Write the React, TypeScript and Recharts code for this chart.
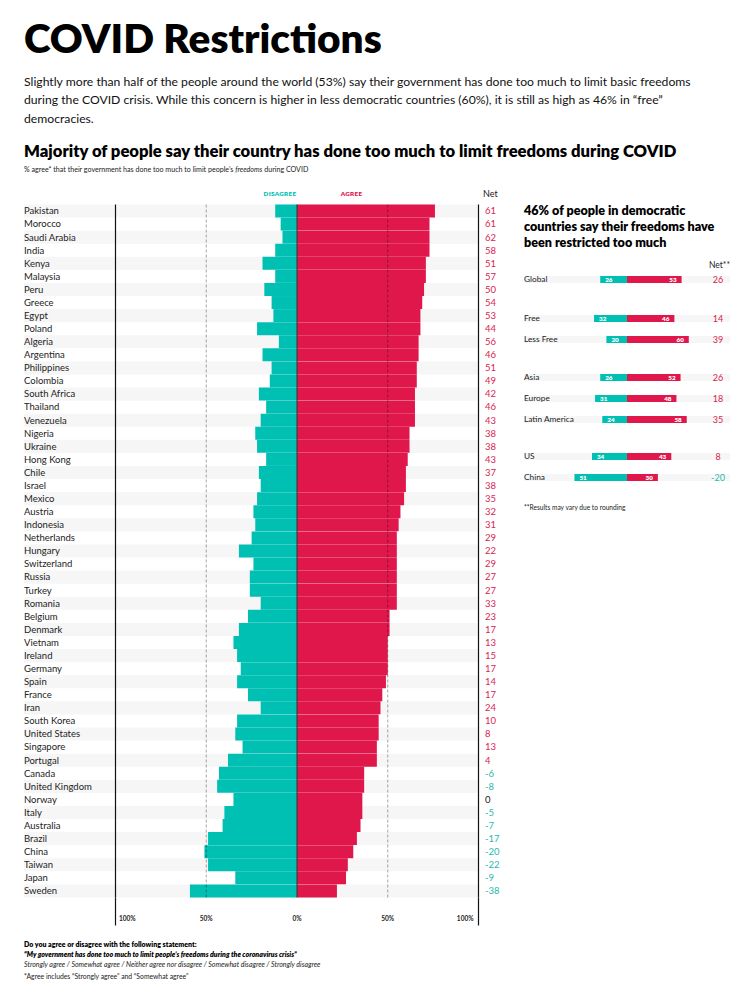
import React from 'react';
import { BarChart, Bar, XAxis, YAxis, ReferenceLine, ReferenceArea, LabelList } from 'recharts';

const countries = ['Pakistan','Morocco','Saudi Arabia','India','Kenya','Malaysia','Peru','Greece','Egypt','Poland','Algeria','Argentina','Philippines','Colombia','South Africa','Thailand','Venezuela','Nigeria','Ukraine','Hong Kong','Chile','Israel','Mexico','Austria','Indonesia','Netherlands','Hungary','Switzerland','Russia','Turkey','Romania','Belgium','Denmark','Vietnam','Ireland','Germany','Spain','France','Iran','South Korea','United States','Singapore','Portugal','Canada','United Kingdom','Norway','Italy','Australia','Brazil','China','Taiwan','Japan','Sweden'];
const disagreeValues = [12,9,8,12,19,12,18,14,13,22,10,19,14,15,21,17,20,23,22,17,21,20,22,24,23,25,32,24,26,26,20,27,32,35,33,31,33,27,20,33,34,30,38,43,44,35,40,41,49,51,49,34,59];
const agreeValues = [76,73,73,73,71,71,70,69,68,68,67,67,66,66,65,65,65,62,62,61,60,60,59,57,56,55,55,55,55,55,55,51,51,50,50,50,49,47,46,45,45,44,44,37,37,36,36,35,33,31,28,27,22];
const netValues = [61,61,62,58,51,57,50,54,53,44,56,46,51,49,42,46,43,38,38,43,37,38,35,32,31,29,22,29,27,27,33,23,17,13,15,17,14,17,24,10,8,13,4,-6,-8,0,-5,-7,-17,-20,-22,-9,-38];
const xTicks = [-100, -50, 0, 50, 100];

const panelLabels = ['Global','Free','Less Free','Asia','Europe','Latin America','US','China'];
const panelGroupOf = [0,1,1,2,2,2,3,3];
const panelDisagree = [26,32,20,26,31,24,34,51];
const panelAgree = [53,46,60,52,48,58,43,30];
const panelNet = [26,14,39,26,18,35,8,-20];
const panelGroupTops = [268.5, 307.5, 366.5, 445.5];

const TEAL = '#00bfb3';
const RED = '#e0174b';
const NET_RED = '#d92550';
const NET_TEAL = '#1fbab0';
const STRIPE = '#f6f6f6';
const FONT = 'Lato, "Noto Sans", sans-serif';

const mainData = countries.map((c, i) => ({ country: c, disagree: -disagreeValues[i], agree: agreeValues[i], net: netValues[i] }));

const netColor = (n: number) => (n > 0 ? NET_RED : n < 0 ? NET_TEAL : '#222');

const YTick = (props: any) => {
  const { y, payload, index } = props;
  const i = payload && typeof payload.index === 'number' ? payload.index : index;
  const n = netValues[i];
  return (
    <g>
      <text x={24} y={y} dy="0.35em" fontSize={9.5} fill="#222" fontFamily={FONT}>{payload.value}</text>
      <text x={485} y={y} dy="0.35em" fontSize={9.5} fill={netColor(n)} fontFamily={FONT}>{n}</text>
    </g>
  );
};

const XTick = (props: any) => {
  const { x, y, payload } = props;
  const v = payload.value;
  let anchor: any = 'middle';
  let tx = x;
  if (v === -100) { anchor = 'start'; tx = x + 3.5; }
  if (v === 100) { anchor = 'end'; tx = x - 5; }
  return (
    <g>
      {Math.abs(v) === 100 && <line x1={x} x2={x} y1={y} y2={y + 28} stroke="#111" strokeWidth={1.2} />}
      <text x={tx} y={y + 23} textAnchor={anchor} fontSize={6.5} fontWeight={700} fill="#222" fontFamily={FONT}>{`${Math.abs(v)}%`}</text>
    </g>
  );
};

const PanelTick = (props: any) => {
  const { x, y, payload } = props;
  const i = panelLabels.indexOf(payload.value);
  const n = panelNet[i];
  return (
    <g>
      <text x={x} y={y} dy="0.35em" textAnchor="start" fontSize={8.3} fill="#222" fontFamily={FONT}>{payload.value}</text>
      <text x={x + 194} y={y} dy="0.35em" textAnchor="middle" fontSize={9} fill={netColor(n)} fontFamily={FONT}>{n}</text>
    </g>
  );
};

const DisLabel = (props: any) => {
  const { x, y, width, height, value } = props;
  const left = Math.min(x, x + width);
  return (
    <text x={left + 5} y={y + height / 2} dy="0.35em" fontSize={6.3} fontWeight={800} fill="#fff" fontFamily={FONT}>{Math.abs(value)}</text>
  );
};
const AgrLabel = (props: any) => {
  const { x, y, width, height, value } = props;
  const right = Math.max(x, x + width);
  return (
    <text x={right - 5} y={y + height / 2} dy="0.35em" textAnchor="end" fontSize={6.3} fontWeight={800} fill="#fff" fontFamily={FONT}>{Math.abs(value)}</text>
  );
};

const PanelGroup = ({ group }: { group: number }) => {
  const rows = panelLabels
    .map((label, i) => ({ label, disagree: -panelDisagree[i], agree: panelAgree[i], net: panelNet[i], g: panelGroupOf[i] }))
    .filter((r) => r.g === group);
  return (
    <div style={{ position: 'absolute', left: 524, top: panelGroupTops[group] }}>
      <BarChart width={206} height={rows.length * 21} data={rows} layout="vertical" stackOffset="sign" barCategoryGap={7} margin={{ top: 0, right: 0, bottom: 0, left: 0 }}>
        <XAxis type="number" domain={[-100, 100]} hide />
        <YAxis type="category" dataKey="label" mirror axisLine={false} tickLine={false} tickSize={0} tickMargin={0} tick={<PanelTick />} interval={0} />
        <Bar dataKey="disagree" stackId="p" fill={TEAL} background={{ fill: STRIPE }} isAnimationActive={false}>
          <LabelList dataKey="disagree" content={<DisLabel />} />
        </Bar>
        <Bar dataKey="agree" stackId="p" fill={RED} isAnimationActive={false}>
          <LabelList dataKey="agree" content={<AgrLabel />} />
        </Bar>
      </BarChart>
    </div>
  );
};

export default function App() {
  return (
    <div style={{ position: 'absolute', left: 0, top: 0, width: 737, height: 1003, background: '#fff', overflow: 'hidden' }}>
      <svg width={737} height={1003} style={{ position: 'absolute', left: 0, top: 0 }} fontFamily={FONT}>
        <text x={24} y={53} fontSize={40.5} fontWeight={800} fill="#000">COVID Restrictions</text>
        <text x={24} y={85.5} fontSize={12.2} fill="#111">Slightly more than half of the people around the world (53%) say their government has done too much to limit basic freedoms</text>
        <text x={24} y={104} fontSize={12.2} fill="#111">during the COVID crisis. While this concern is higher in less democratic countries (60%), it is still as high as 46% in “free”</text>
        <text x={24} y={122.7} fontSize={12.2} fill="#111">democracies.</text>
        <text x={24} y={157} fontSize={16.6} fontWeight={800} fill="#000">Majority of people say their country has done too much to limit freedoms during COVID</text>
        <text x={24} y={171.5} fontSize={7.1} fill="#222">% agree* that their government has done too much to limit people’s <tspan fontStyle="italic">freedoms</tspan> during COVID</text>
        <text x={280} y={195.5} fontSize={6.3} fontWeight={800} fill={TEAL} textAnchor="middle" letterSpacing={0.3}>DISAGREE</text>
        <text x={351.5} y={195.5} fontSize={6.3} fontWeight={800} fill={RED} textAnchor="middle" letterSpacing={0.3}>AGREE</text>
        <text x={483} y={197} fontSize={9} fill="#222">Net</text>

        <text x={524} y={215} fontSize={12.6} fontWeight={800} fill="#000">46% of people in democratic</text>
        <text x={524} y={231} fontSize={12.6} fontWeight={800} fill="#000">countries say their freedoms have</text>
        <text x={524} y={247} fontSize={12.6} fontWeight={800} fill="#000">been restricted too much</text>
        <text x={730} y={268} fontSize={8.5} fill="#222" textAnchor="end">Net**</text>
        <text x={524} y={510} fontSize={6.6} fill="#222">**Results may vary due to rounding</text>

        <text x={24} y={947} fontSize={7} fontWeight={800} fill="#000">Do you agree or disagree with the following statement:</text>
        <text x={24} y={956.5} fontSize={7} fontWeight={800} fontStyle="italic" fill="#000">“My government has done too much to limit people’s freedoms during the coronavirus crisis”</text>
        <text x={24} y={966.5} fontSize={7} fontStyle="italic" fill="#222">Strongly agree / Somewhat agree / Neither agree nor disagree / Somewhat disagree / Strongly disagree</text>
        <text x={24} y={979} fontSize={6.8} fill="#222">*Agree includes “Strongly agree” and “Somewhat agree”</text>
      </svg>

      <div style={{ position: 'absolute', left: 0, top: 190 }}>
        <BarChart width={737} height={740} data={mainData} layout="vertical" stackOffset="sign" barCategoryGap={0} margin={{ top: 14.5, right: 258.5, bottom: 2.5, left: 0 }}>
          <XAxis type="number" domain={[-100, 100]} ticks={xTicks} interval={0} axisLine={false} tickLine={false} tickSize={0} tickMargin={0} height={30} tick={<XTick />} />
          <YAxis type="category" dataKey="country" width={115.5} axisLine={false} tickLine={false} interval={0} tick={<YTick />} />
          {countries.map((c, i) => (i % 2 === 0 ? (
            <ReferenceArea key={c} x1={-150.5} x2={100} y1={c} y2={c} ifOverflow="visible" fill={STRIPE} fillOpacity={1} stroke="none" />
          ) : null))}
          <Bar dataKey="disagree" stackId="m" fill={TEAL} isAnimationActive={false} />
          <Bar dataKey="agree" stackId="m" fill={RED} isAnimationActive={false} />
          <ReferenceLine x={-50} stroke="rgba(0,0,0,0.35)" strokeDasharray="3 2" />
          <ReferenceLine x={50} stroke="rgba(0,0,0,0.35)" strokeDasharray="3 2" />
          <ReferenceLine x={0} stroke="#333" strokeWidth={1} />
          <ReferenceLine x={-100} stroke="#111" strokeWidth={1.2} />
          <ReferenceLine x={100} stroke="#111" strokeWidth={1.2} />
        </BarChart>
      </div>

      {[0, 1, 2, 3].map((g) => <PanelGroup key={g} group={g} />)}
    </div>
  );
}
